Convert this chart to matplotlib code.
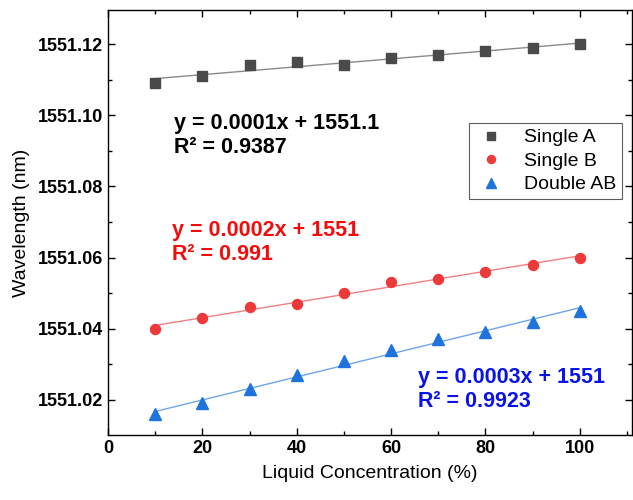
import numpy as np
import matplotlib

matplotlib.use("Agg")
import matplotlib.pyplot as plt
from matplotlib.ticker import MultipleLocator, FormatStrFormatter

plt.rcParams["font.family"] = ["Liberation Sans", "DejaVu Sans"]

# data
concentration = [10, 20, 30, 40, 50, 60, 70, 80, 90, 100]
single_a = [1551.109, 1551.111, 1551.114, 1551.115, 1551.114,
            1551.116, 1551.117, 1551.118, 1551.119, 1551.120]
single_b = [1551.040, 1551.043, 1551.046, 1551.047, 1551.050,
            1551.053, 1551.054, 1551.056, 1551.058, 1551.060]
double_ab = [1551.016, 1551.019, 1551.023, 1551.027, 1551.031,
             1551.034, 1551.037, 1551.039, 1551.042, 1551.045]
labels = ["Single A", "Single B", "Double AB"]
equations = ["y = 0.0001x + 1551.1\nR² = 0.9387",
             "y = 0.0002x + 1551\nR² = 0.991",
             "y = 0.0003x + 1551\nR² = 0.9923"]

fig = plt.figure(figsize=(6.33, 5.0), dpi=100)
ax = fig.add_axes([0.1706, 0.13, 0.8274, 0.85])

x = np.array(concentration, dtype=float)
series = [
    (single_a, "s", "#4a4a4a", "#8a8a8a", 6.8),
    (single_b, "o", "#ec3a3a", "#f08080", 7.2),
    (double_ab, "^", "#1e74dc", "#6fa6e8", 8.5),
]
for (y, marker, color, lcolor, ms), lab in zip(series, labels):
    y = np.array(y)
    k, b = np.polyfit(x, y - 1551.0, 1)
    ax.plot(x, 1551.0 + k * x + b, color=lcolor, lw=1.0, zorder=2)
    ax.plot(x, y, linestyle="none", marker=marker, color=color, ms=ms,
            label=lab, zorder=3)

ax.text(14, 1551.0944, equations[0], color="black", fontsize=15.5,
        fontweight="bold", linespacing=1.2, va="center")
ax.text(13.6, 1551.0642, equations[1], color="#f20d0d", fontsize=15.5,
        fontweight="bold", linespacing=1.2, va="center")
ax.text(65.8, 1551.0228, equations[2], color="#0a14e6", fontsize=15.5,
        fontweight="bold", linespacing=1.2, va="center")

ax.set_xlim(0, 111)
ax.set_ylim(1551.0101, 1551.1296)
ax.xaxis.set_major_locator(MultipleLocator(20))
ax.xaxis.set_minor_locator(MultipleLocator(10))
ax.yaxis.set_major_locator(MultipleLocator(0.02))
ax.yaxis.set_minor_locator(MultipleLocator(0.01))
ax.yaxis.set_major_formatter(FormatStrFormatter("%.2f"))
ax.tick_params(which="both", direction="in", top=True, right=True,
               labelsize=13, width=1.0)
ax.tick_params(which="major", length=5)
ax.tick_params(which="minor", length=3)
for lab in ax.get_xticklabels() + ax.get_yticklabels():
    lab.set_fontweight("bold")
for sp in ax.spines.values():
    sp.set_linewidth(1.0)

ax.set_xlabel("Liquid Concentration (%)", fontsize=14, labelpad=6)
ax.set_ylabel("Wavelength (nm)", fontsize=14, labelpad=6)

leg = ax.legend(loc="upper right", bbox_to_anchor=(0.981, 0.734), fontsize=14,
                frameon=True, fancybox=False, edgecolor="#333333",
                handletextpad=0.9, borderpad=0.3, labelspacing=0.3,
                handlelength=1.6, markerscale=0.8, borderaxespad=0)
leg.get_frame().set_linewidth(0.8)

fig.savefig("out.png", dpi=100)
